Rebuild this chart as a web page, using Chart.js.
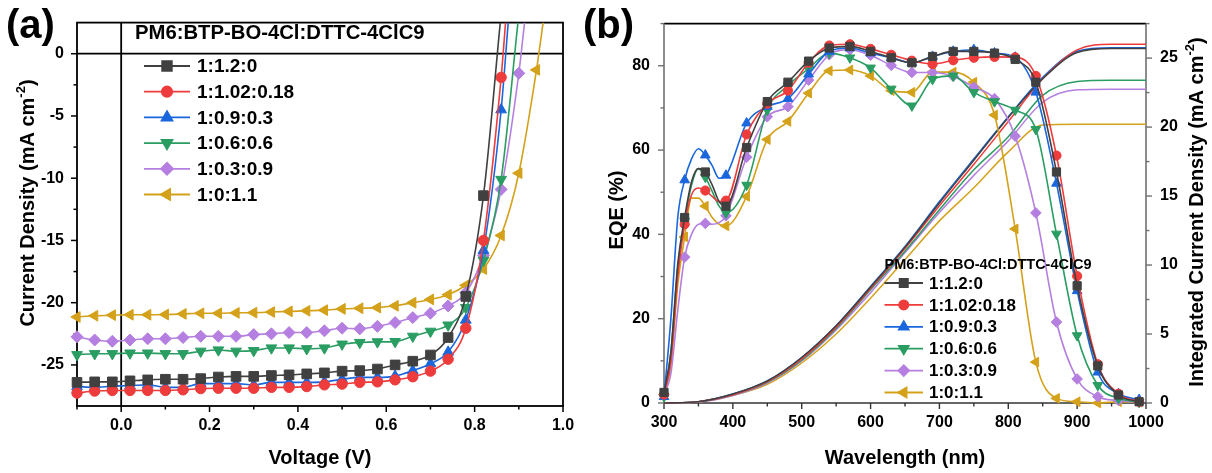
<!DOCTYPE html>
<html><head><meta charset="utf-8">
<script src="https://cdn.jsdelivr.net/npm/chart.js@4.4.1/dist/chart.umd.min.js"></script>
<style>
html,body{margin:0;padding:0;background:#fff;width:1212px;height:473px;overflow:hidden;}
#ca{position:absolute;left:0;top:0;}
#cb{position:absolute;left:575px;top:0;}
</style></head><body>
<canvas id="ca" width="600" height="473"></canvas>
<canvas id="cb" width="637" height="473"></canvas>
<script>
// ---------- shared ----------
const seriesNames = ['1:1.2:0','1:1.02:0.18','1:0.9:0.3','1:0.6:0.6','1:0.3:0.9','1:0:1.1'];
const legendTitle = 'PM6:BTP-BO-4Cl:DTTC-4ClC9';
const seriesColors = ['#404040','#ee3b3b','#1a66dd','#2a9d62','#b47fe0','#d4a11a'];

// ---------- panel (a): J-V ----------
const voltage = [-0.1,-0.06,-0.02,0.02,0.06,0.1,0.14,0.18,0.22,0.26,0.3,0.34,0.38,0.42,0.46,0.5,0.54,0.58,0.62,0.66,0.7,0.74,0.78,0.82,0.86,0.9,0.94];
const jv_1_1p2_0 = [-26.4,-26.36,-26.36,-26.28,-26.2,-26.15,-26.15,-26.1,-25.97,-25.92,-25.92,-25.85,-25.8,-25.72,-25.64,-25.5,-25.46,-25.33,-25.0,-24.7,-24.2,-22.8,-19.5,-11.4];
const jv_1_1p02_0p18 = [-27.26,-27.1,-27.05,-27.05,-27.05,-27.05,-27.0,-26.9,-26.87,-26.87,-26.87,-26.8,-26.8,-26.74,-26.6,-26.54,-26.4,-26.36,-26.2,-25.95,-25.5,-24.54,-22.05,-15.0,-1.9];
const jv_1_0p9_0p3 = [-26.74,-26.8,-26.7,-26.67,-26.6,-26.8,-26.8,-26.5,-26.5,-26.5,-26.6,-26.4,-26.4,-26.4,-26.36,-26.15,-26.0,-26.0,-25.9,-25.46,-24.9,-23.97,-21.4,-15.8,-4.5];
const jv_1_0p6_0p6 = [-24.18,-24.1,-24.1,-24.05,-24.05,-24.1,-24.1,-23.9,-23.8,-23.9,-23.85,-23.64,-23.64,-23.7,-23.64,-23.33,-23.2,-23.15,-23.13,-22.7,-22.3,-21.8,-20.4,-16.6,-10.1];
const jv_1_0p3_0p9 = [-22.74,-23.0,-23.1,-23.0,-22.9,-22.9,-22.8,-22.7,-22.7,-22.7,-22.56,-22.5,-22.4,-22.4,-22.26,-22.05,-22.1,-21.9,-21.6,-21.2,-20.85,-20.26,-19.2,-16.2,-10.9,-1.57];
const jv_1_0_1p1 = [-21.15,-21.05,-21.0,-20.97,-20.97,-20.95,-20.9,-20.85,-20.85,-20.82,-20.8,-20.75,-20.7,-20.65,-20.6,-20.5,-20.45,-20.4,-20.25,-20.0,-19.74,-19.36,-18.6,-17.3,-14.6,-9.6,-1.3];
// voltage where each curve leaves the top of the frame (J = jvTop)
const jvExitV = [0.858,0.870,0.876,0.898,0.913,0.955];
const jvTop = 2.5;
const jvBottom = -28.3;
const xTicksA = [0,0.2,0.4,0.6,0.8,1.0];
const xMinorA = [-0.1,0.1,0.3,0.5,0.7,0.9];
const yTicksA = [-25,-20,-15,-10,-5,0];
const yMinorA = [-27.5,-22.5,-17.5,-12.5,-7.5,-2.5];

// ---------- panel (b): EQE + integrated Jsc ----------
const wavelength = [300,310,320,330,340,350,360,370,380,390,420,450,480,510,540,570,600,630,660,690,720,750,780,810,840,870,900,930,960,990];
const eqe_1_1p2_0 = [2.5,12,33,44,52.5,55.6,54.8,51.7,47.8,46.7,60.6,71.5,76.1,81.1,84.2,84.6,83.4,81.9,80.7,82.2,83.4,83.4,83.0,81.5,76.1,54.8,27.8,8.8,1.9,0.3];
const eqe_1_1p02_0p18 = [2,10,30,42.4,49.4,51,50.4,49,47.8,48,63.7,71,74.1,80.7,84.8,85.1,84.0,82.6,81.2,80.4,81.3,81.9,82.1,82,77.6,58.7,30.1,9.2,2.2,0.3];
const eqe_1_0p9_0p3 = [1.5,20,44,52.9,57.9,60.3,58.8,56.3,53.3,54,66.4,70.3,72.2,78,83.4,84.2,83,81.9,80.7,82.2,83.4,83.8,83,82,73.7,52.1,26.6,7.3,2.2,0.8];
const eqe_1_0p6_0p6 = [1.5,12,32,43.2,51.7,55.6,53.6,50.2,46.7,45.1,51.7,69.5,75.3,79.3,83,81.9,79.5,74.5,70.5,76.8,77.6,73.7,71.5,69.5,64.9,40.1,16,4.2,1.1,0.2];
const eqe_1_0p3_0p9 = [2,7,22,34.6,40,42.4,42.6,42.4,42.8,44.4,58.3,67.9,70.3,76.6,82.6,83.8,82.5,80.1,78.4,78.4,77.5,74.9,72.2,63.3,45.1,19.2,5.7,1.5,0.6,0.2];
const eqe_1_0_1p1 = [2,9,28,39.4,48.6,48.6,46.7,44,42.4,42,49,62.5,66.8,73.5,78.8,79,77.6,74.1,73.7,78.5,78.5,76.1,68.3,41.3,9.7,1.1,0.3,0,0.3,0.2];
const wlInt = [300,350,400,450,500,550,600,650,700,750,800,850,900,950,1000];
const jint_1_1p2_0 = [0,0.1,0.65,1.6,3.3,5.6,8.4,11.3,14.5,17.6,20.7,23.5,25.4,25.7,25.7];
const jint_1_1p02_0p18 = [0,0.1,0.6,1.55,3.2,5.5,8.3,11.2,14.3,17.3,20.4,23.5,25.6,26.0,26.0];
const jint_1_0p9_0p3 = [0,0.1,0.65,1.6,3.3,5.6,8.45,11.35,14.6,17.7,20.75,23.6,25.5,25.75,25.75];
const jint_1_0p6_0p6 = [0,0.1,0.6,1.5,3.1,5.4,8.2,11.0,14.0,16.9,19.3,22.3,23.3,23.4,23.4];
const jint_1_0p3_0p9 = [0,0.08,0.55,1.45,3.05,5.3,8.0,10.9,13.8,16.5,19.0,21.8,22.7,22.75,22.75];
const jint_1_0_1p1 = [0,0.08,0.55,1.35,2.9,5.0,7.6,10.4,13.2,15.6,18.2,20.15,20.2,20.2,20.2];
const xTicksB = [300,400,500,600,700,800,900,1000];
const xMinorB = [350,450,550,650,750,850,950];
const yTicksB = [0,20,40,60,80];
const yMinorB = [10,30,50,70,90];
const y2TicksB = [0,5,10,15,20,25];
const y2MinorB = [2.5,7.5,12.5,17.5,22.5,27.5];

// ---------- styles ----------
const FONT = "'Liberation Sans', Arial, sans-serif";
Chart.defaults.font.family = FONT;
Chart.defaults.color = '#000';
const markerStyles = [
  {pointStyle:'rect', rotation:0, rA:6.8, rB:5.8},
  {pointStyle:'circle', rotation:0, rA:5.2, rB:4.6},
  {pointStyle:'triangle', rotation:0, rA:6.2, rB:5.6},
  {pointStyle:'triangle', rotation:180, rA:6.2, rB:5.6},
  {pointStyle:'rectRot', rotation:0, rA:6.0, rB:5.3},
  {pointStyle:'triangle', rotation:270, rA:6.2, rB:5.6}
];

function strokeLine(ctx,x1,y1,x2,y2){ctx.beginPath();ctx.moveTo(x1,y1);ctx.lineTo(x2,y2);ctx.stroke();}
function tickMarks(ctx, scale, values, len, side){
  values.forEach(v=>{
    const p = scale.getPixelForValue(v);
    if(side==='bottom') strokeLine(ctx,p,scale.top,p,scale.top+len);
    else if(side==='left') strokeLine(ctx,scale.right,p,scale.right-len,p);
    else strokeLine(ctx,scale.left,p,scale.left+len,p);
  });
}
function drawTitle(ctx, cx, cy, parts, angle){
  ctx.save();
  ctx.translate(cx,cy); ctx.rotate(angle);
  ctx.textBaseline='middle'; ctx.textAlign='left'; ctx.fillStyle='#000';
  let total=0;
  parts.forEach(p=>{ctx.font='bold '+p.s+'px '+FONT; p.w=ctx.measureText(p.t).width; total+=p.w;});
  let x=-total/2;
  parts.forEach(p=>{ctx.font='bold '+p.s+'px '+FONT; ctx.fillText(p.t,x,p.dy||0); x+=p.w;});
  ctx.restore();
}
function drawLegend(ctx, chart, cfg){
  ctx.save();
  ctx.fillStyle='#000'; ctx.textBaseline='middle'; ctx.textAlign='left';
  ctx.font='bold '+cfg.titleSize+'px '+FONT;
  ctx.fillText(legendTitle, cfg.titleX, cfg.titleY);
  seriesNames.forEach((name,i)=>{
    const y = cfg.y0 + cfg.dy*i;
    const c = seriesColors[i];
    ctx.strokeStyle=c; ctx.fillStyle=c; ctx.lineWidth=cfg.lw;
    strokeLine(ctx,cfg.x1,y,cfg.x2,y);
    const m = markerStyles[i];
    Chart.helpers.drawPoint(ctx,{pointStyle:m.pointStyle,rotation:m.rotation,radius:cfg.big?m.rA:m.rB,borderWidth:1},(cfg.x1+cfg.x2)/2,y);
    ctx.fillStyle='#000';
    ctx.font='bold '+cfg.textSize+'px '+FONT;
    ctx.fillText(name,cfg.tx,y+1);
  });
  ctx.restore();
}

// ---------- chart A ----------
const jvSeries = [jv_1_1p2_0,jv_1_1p02_0p18,jv_1_0p9_0p3,jv_1_0p6_0p6,jv_1_0p3_0p9,jv_1_0_1p1];
const dsA = jvSeries.map((arr,i)=>{
  const pts = arr.map((j,k)=>({x:voltage[k],y:j}));
  pts.push({x:jvExitV[i],y:jvTop});
  const radii = pts.map((p,k)=> k<arr.length ? markerStyles[i].rA : 0);
  return {
    label:seriesNames[i], data:pts, borderColor:seriesColors[i], backgroundColor:seriesColors[i],
    borderWidth:1.6, pointStyle:markerStyles[i].pointStyle, rotation:markerStyles[i].rotation,
    pointRadius:radii, pointBorderWidth:1, cubicInterpolationMode:'monotone',
    clip:{left:10,top:0,right:0,bottom:10}
  };
});
const plugA = {
  id:'plugA',
  beforeDatasetsDraw(chart){
    const {ctx, chartArea:a, scales:{x,y}} = chart;
    ctx.save(); ctx.strokeStyle='#000'; ctx.lineWidth=1.8;
    const x0=x.getPixelForValue(0), y0=y.getPixelForValue(0);
    strokeLine(ctx,x0,a.top,x0,a.bottom);
    strokeLine(ctx,a.left,y0,a.right,y0);
    ctx.strokeRect(a.left,a.top,a.right-a.left,a.bottom-a.top);
    ctx.lineWidth=1.5;
    tickMarks(ctx,x,xTicksA,6,'bottom'); tickMarks(ctx,x,xMinorA,3.5,'bottom');
    tickMarks(ctx,y,yTicksA,6,'left'); tickMarks(ctx,y,yMinorA,3.5,'left');
    ctx.restore();
  },
  afterDraw(chart){
    const ctx=chart.ctx, a=chart.chartArea;
    drawLegend(ctx,chart,{titleSize:20.3,titleX:135,titleY:33.5,y0:66,dy:25.7,x1:144,x2:190,tx:197,textSize:19,lw:1.8,big:true});
    drawTitle(ctx,(a.left+a.right)/2,458,[{t:'Voltage (V)',s:20}],0);
    drawTitle(ctx,28,203,[{t:'Current Density (mA cm',s:20},{t:'-2',s:13,dy:-7},{t:')',s:20}],-Math.PI/2);
    ctx.save(); ctx.fillStyle='#000'; ctx.font='bold 40px '+FONT; ctx.textBaseline='alphabetic';
    ctx.fillText('(a)',6,38); ctx.restore();
  }
};
new Chart(document.getElementById('ca'),{
  type:'line',
  data:{datasets:dsA},
  options:{
    responsive:false, animation:false, devicePixelRatio:1,
    layout:{padding:{left:0,top:15,right:37,bottom:0}},
    plugins:{legend:{display:false},tooltip:{enabled:false}},
    scales:{
      x:{type:'linear',min:-0.1,max:1.0,
        afterBuildTicks:s=>{s.ticks=xTicksA.map(v=>({value:v}));},
        afterFit:s=>{s.height=67;},
        grid:{display:false,drawTicks:false}, border:{display:false},
        ticks:{padding:10,font:{size:16,weight:'bold'},color:'#000',callback:v=>v.toFixed(1),maxRotation:0}},
      y:{type:'linear',min:jvBottom,max:jvTop,
        afterBuildTicks:s=>{s.ticks=yTicksA.map(v=>({value:v}));},
        afterFit:s=>{s.width=77;},
        grid:{display:false,drawTicks:false}, border:{display:false},
        ticks:{padding:13,font:{size:16,weight:'bold'},color:'#000',callback:v=>String(v)}}
    }
  },
  plugins:[plugA]
});

// ---------- chart B (canvas starts at x = 575) ----------
const OB = 575;
const eqeSeries = [eqe_1_1p2_0,eqe_1_1p02_0p18,eqe_1_0p9_0p3,eqe_1_0p6_0p6,eqe_1_0p3_0p9,eqe_1_0_1p1];
const jintSeries = [jint_1_1p2_0,jint_1_1p02_0p18,jint_1_0p9_0p3,jint_1_0p6_0p6,jint_1_0p3_0p9,jint_1_0_1p1];
const dsB = [];
eqeSeries.forEach((arr,i)=>{
  dsB.push({
    label:seriesNames[i], yAxisID:'y', data:arr.map((v,k)=>({x:wavelength[k],y:v})),
    borderColor:seriesColors[i], backgroundColor:seriesColors[i], borderWidth:1.6,
    pointStyle:markerStyles[i].pointStyle, rotation:markerStyles[i].rotation,
    pointRadius:wavelength.map(w=> (w-300)%30===0 ? markerStyles[i].rB : 0),
    pointBorderWidth:1, cubicInterpolationMode:'monotone', clip:false
  });
});
jintSeries.forEach((arr,i)=>{
  dsB.push({
    label:seriesNames[i]+' Jint', yAxisID:'y2', data:arr.map((v,k)=>({x:wlInt[k],y:v})),
    borderColor:seriesColors[i], borderWidth:1.5, pointRadius:0, cubicInterpolationMode:'monotone', clip:false
  });
});
const plugB = {
  id:'plugB',
  beforeDatasetsDraw(chart){
    const {ctx, chartArea:a, scales:{x,y,y2}} = chart;
    ctx.save();
    ctx.strokeStyle='#000'; ctx.lineWidth=1.8;
    strokeLine(ctx,a.left,a.top,a.right,a.top);
    ctx.strokeStyle='#707070'; ctx.lineWidth=1.6;
    strokeLine(ctx,a.left,a.top,a.left,a.bottom);
    strokeLine(ctx,a.right,a.top,a.right,a.bottom);
    ctx.strokeStyle='#333';
    strokeLine(ctx,a.left,a.bottom,a.right,a.bottom);
    ctx.lineWidth=1.4; ctx.strokeStyle='#333';
    tickMarks(ctx,x,xTicksB,6,'bottom'); tickMarks(ctx,x,xMinorB,3.5,'bottom');
    ctx.strokeStyle='#707070';
    tickMarks(ctx,y,yTicksB,6,'left'); tickMarks(ctx,y,yMinorB,3.5,'left');
    tickMarks(ctx,y2,y2TicksB,6,'right'); tickMarks(ctx,y2,y2MinorB,3.5,'right');
    ctx.restore();
  },
  afterDraw(chart){
    const ctx=chart.ctx, a=chart.chartArea;
    drawLegend(ctx,chart,{titleSize:14.5,titleX:884.5-OB,titleY:265,y0:283,dy:21.9,x1:884.5-OB,x2:923-OB,tx:929-OB,textSize:17,lw:1.8,big:false});
    drawTitle(ctx,(a.left+a.right)/2,458,[{t:'Wavelength (nm)',s:20}],0);
    drawTitle(ctx,617-OB,210,[{t:'EQE (%)',s:20}],-Math.PI/2);
    drawTitle(ctx,1197-OB,212,[{t:'Integrated Current Density (mA cm',s:20},{t:'-2',s:13,dy:-7},{t:')',s:20}],-Math.PI/2);
    ctx.save(); ctx.fillStyle='#000'; ctx.font='bold 40px '+FONT; ctx.textBaseline='alphabetic';
    ctx.fillText('(b)',583-OB,38); ctx.restore();
  }
};
new Chart(document.getElementById('cb'),{
  type:'line',
  data:{datasets:dsB},
  options:{
    responsive:false, animation:false, devicePixelRatio:1,
    layout:{padding:{left:0,top:15,right:0,bottom:0}},
    plugins:{legend:{display:false},tooltip:{enabled:false}},
    scales:{
      x:{type:'linear',min:300,max:1000,
        afterBuildTicks:s=>{s.ticks=xTicksB.map(v=>({value:v}));},
        afterFit:s=>{s.height=70;},
        grid:{display:false,drawTicks:false}, border:{display:false},
        ticks:{padding:10,font:{size:16,weight:'bold'},color:'#000',maxRotation:0,callback:v=>String(v)}},
      y:{type:'linear',position:'left',min:0,max:90,
        afterBuildTicks:s=>{s.ticks=yTicksB.map(v=>({value:v}));},
        afterFit:s=>{s.width=664-OB;},
        grid:{display:false,drawTicks:false}, border:{display:false},
        ticks:{padding:14,font:{size:16,weight:'bold'},color:'#000',callback:v=>String(v)}},
      y2:{type:'linear',position:'right',min:0,max:27.5,
        afterBuildTicks:s=>{s.ticks=y2TicksB.map(v=>({value:v}));},
        afterFit:s=>{s.width=66;},
        grid:{display:false,drawTicks:false}, border:{display:false},
        ticks:{padding:14,font:{size:16,weight:'bold'},color:'#000',callback:v=>String(v)}}
    }
  },
  plugins:[plugB]
});
</script>
</body></html>
